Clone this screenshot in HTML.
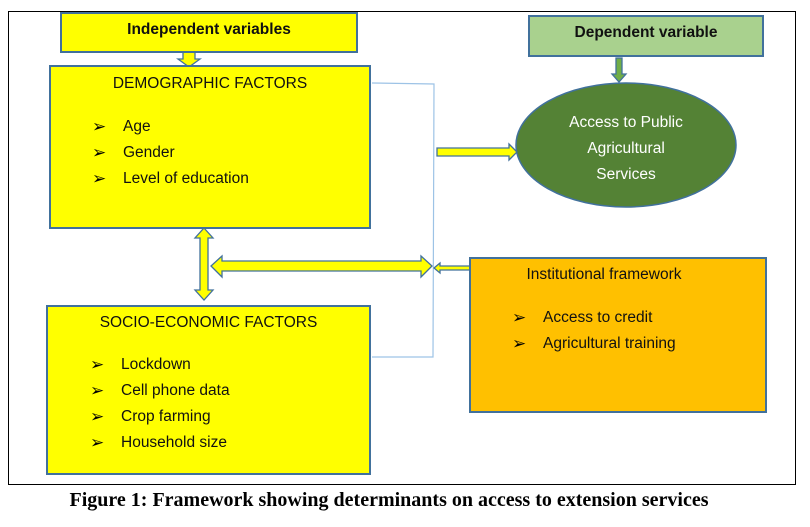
<!DOCTYPE html>
<html><head><style>
body{margin:0;width:810px;height:527px;background:#fff;position:relative;overflow:hidden;font-family:"Liberation Sans",sans-serif;}
.a{position:absolute;}
.box{position:absolute;box-sizing:border-box;border:2px solid #41719c;}
.t{position:absolute;font-size:15.5px;color:#111;white-space:nowrap;}
.b{font-size:17px;color:#000;}
</style></head><body>
<div class="a" style="left:8px;top:11px;width:788px;height:474px;border:1px solid #000;box-sizing:border-box;"></div>
<svg class="a" style="left:0;top:0" width="810" height="527">
<g fill="none" stroke="#9dc3e6" stroke-width="1.2">
<polyline points="372,83 434,84 433,357 372,357"/>
</g>
<g stroke="#41719c" stroke-width="1.3" fill="#ffff00">
<polygon points="183,52 195,52 195,59 200,59 189,67 178,59 183,59"/>
<polygon points="204,228 213,238 208,238 208,290 213,290 204,300 195,290 200,290 200,238 195,238"/>
<polygon points="211,266 222,256 222,261 421,261 421,256 432,266 421,277 421,271 222,271 222,277"/>
<polygon points="434,268 440,263 440,266 470,266 470,270 440,270 440,273"/>
<polygon points="437,148 509,148 509,144 517,152 509,160 509,156 437,156"/>
<polygon points="616,58 622,58 622,74 626,74 619,82 612,74 616,74" fill="#70ad47"/>
</g>
<ellipse cx="626" cy="145" rx="110" ry="62" fill="#548235" stroke="#41719c" stroke-width="1.5"/>
</svg>
<div class="box" style="left:60px;top:12px;width:298px;height:41px;background:#ffff00;"></div>
<div class="t" style="left:60px;top:21px;width:298px;text-align:center;font-weight:bold;font-size:15.5px;">Independent variables</div>
<div class="box" style="left:528px;top:15px;width:236px;height:42px;background:#a9d18e;"></div>
<div class="t" style="left:528px;top:24px;width:236px;text-align:center;font-weight:bold;font-size:15.5px;">Dependent variable</div>
<div class="box" style="left:49px;top:65px;width:322px;height:164px;background:#ffff00;"></div>
<div class="t" style="left:49px;top:75px;width:322px;text-align:center;">DEMOGRAPHIC FACTORS</div>
<div class="t b" style="left:92px;top:117px;">➢</div><div class="t" style="left:123px;top:118px;">Age</div>
<div class="t b" style="left:92px;top:143px;">➢</div><div class="t" style="left:123px;top:144px;">Gender</div>
<div class="t b" style="left:92px;top:169px;">➢</div><div class="t" style="left:123px;top:170px;">Level of education</div>
<div class="t" style="left:516px;top:110px;width:220px;text-align:center;color:#fff;line-height:26px;">Access to Public<br>Agricultural<br>Services</div>
<div class="box" style="left:469px;top:257px;width:298px;height:156px;background:#ffc000;"></div>
<div class="t" style="left:469px;top:266px;width:270px;text-align:center;">Institutional framework</div>
<div class="t b" style="left:512px;top:308px;">➢</div><div class="t" style="left:543px;top:309px;">Access to credit</div>
<div class="t b" style="left:512px;top:334px;">➢</div><div class="t" style="left:543px;top:335px;">Agricultural training</div>
<div class="box" style="left:46px;top:305px;width:325px;height:170px;background:#ffff00;"></div>
<div class="t" style="left:46px;top:314px;width:325px;text-align:center;">SOCIO-ECONOMIC FACTORS</div>
<div class="t b" style="left:90px;top:355px;">➢</div><div class="t" style="left:121px;top:356px;">Lockdown</div>
<div class="t b" style="left:90px;top:381px;">➢</div><div class="t" style="left:121px;top:382px;">Cell phone data</div>
<div class="t b" style="left:90px;top:407px;">➢</div><div class="t" style="left:121px;top:408px;">Crop farming</div>
<div class="t b" style="left:90px;top:433px;">➢</div><div class="t" style="left:121px;top:434px;">Household size</div>
<div class="t" style="left:40px;top:489px;width:698px;text-align:center;font-family:'Liberation Serif',serif;font-weight:bold;font-size:20px;color:#000;">Figure 1: Framework showing determinants on access to extension services</div>
</body></html>
